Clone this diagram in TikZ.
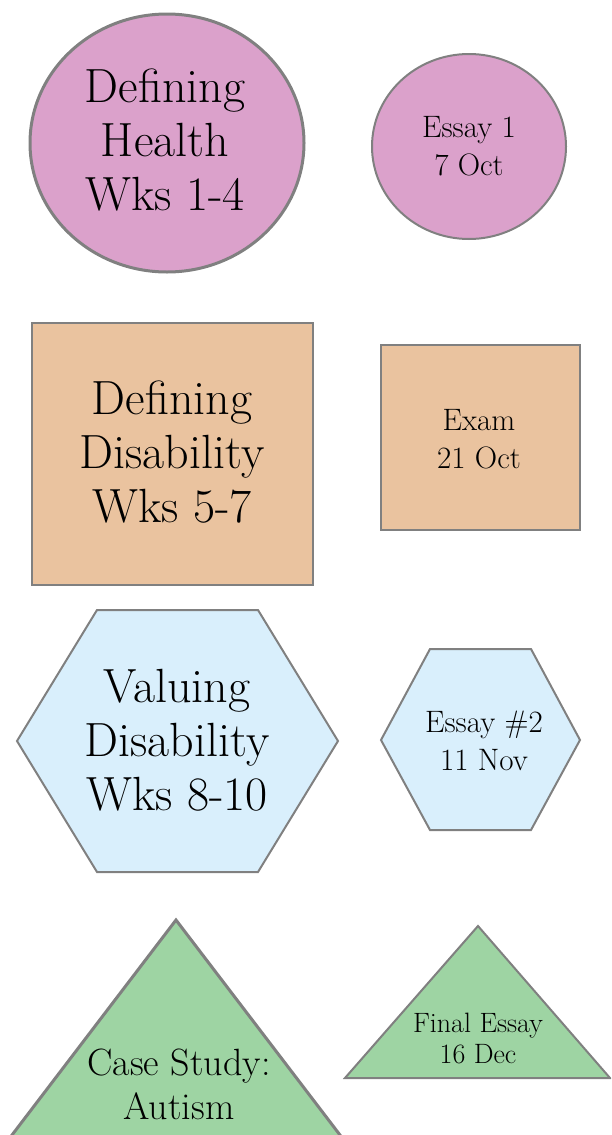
\documentclass[tikz,border=0pt]{standalone}
\usetikzlibrary{shapes.geometric}
\definecolor{pinkf}{HTML}{DBA1CB}
\definecolor{orangef}{HTML}{EAC39F}
\definecolor{bluef}{HTML}{D9EFFC}
\definecolor{greenf}{HTML}{9ED4A3}
\definecolor{edgegray}{HTML}{808080}
\tikzset{
  shapeline/.style={draw=edgegray, line width=2pt, line join=miter},
  thickline/.style={draw=edgegray, line width=3pt},
  bigtext/.style={align=center, font=\fontsize{48}{54}\selectfont, inner sep=0pt},
  smalltext/.style={align=center, font=\fontsize{31}{38}\selectfont, inner sep=0pt},
  tritext/.style={align=center, font=\fontsize{38}{44}\selectfont, inner sep=0pt},
  stritext/.style={align=center, font=\fontsize{28}{31}\selectfont, inner sep=0pt},
}
\begin{document}
\begin{tikzpicture}[x=1pt,y=-1pt]
\useasboundingbox (0,0) rectangle (611,1135);
\clip (0,0) rectangle (611,1135);
% row 1: ellipses
\draw[thickline, fill=pinkf] (167,143) ellipse [x radius=137, y radius=129];
\node[bigtext] (health) at (165,140) {Defining\\Health\\Wks 1-4};
\draw[shapeline, fill=pinkf] (469,146.5) ellipse [x radius=97, y radius=92.5];
\node[smalltext] (essay1) at (469,146) {Essay 1\\7 Oct};
% row 2: rectangles
\draw[shapeline, fill=orangef] (32,323) rectangle (313,585);
\node[bigtext] (disab) at (172,452) {Defining\\Disability\\Wks 5-7};
\draw[shapeline, fill=orangef] (381,345) rectangle (580,530);
\node[smalltext] (exam) at (479,439) {Exam\\21 Oct};
% row 3: hexagons
\draw[shapeline, fill=bluef] (17,741) -- (97,610) -- (258,610) -- (338,741) -- (258,872) -- (97,872) -- cycle;
\node[bigtext] (valuing) at (177,740) {Valuing\\Disability\\Wks 8-10};
\draw[shapeline, fill=bluef] (381,740) -- (430,649) -- (531,649) -- (580,740) -- (531,830) -- (430,830) -- cycle;
\node[smalltext] (essay2) at (484,741) {Essay \#2\\11 Nov};
% row 4: triangles
\draw[thickline, fill=greenf, line join=miter] (176,920) -- (340,1135) -- (361,1163) -- (-9,1163) -- (12,1135) -- cycle;
\node[tritext] (autism) at (179,1084) {Case Study:\\Autism};
\draw[shapeline, fill=greenf] (478,926) -- (610,1078) -- (345,1078) -- cycle;
\node[stritext] (final) at (478,1038) {Final Essay\\16 Dec};
\end{tikzpicture}
\end{document}
